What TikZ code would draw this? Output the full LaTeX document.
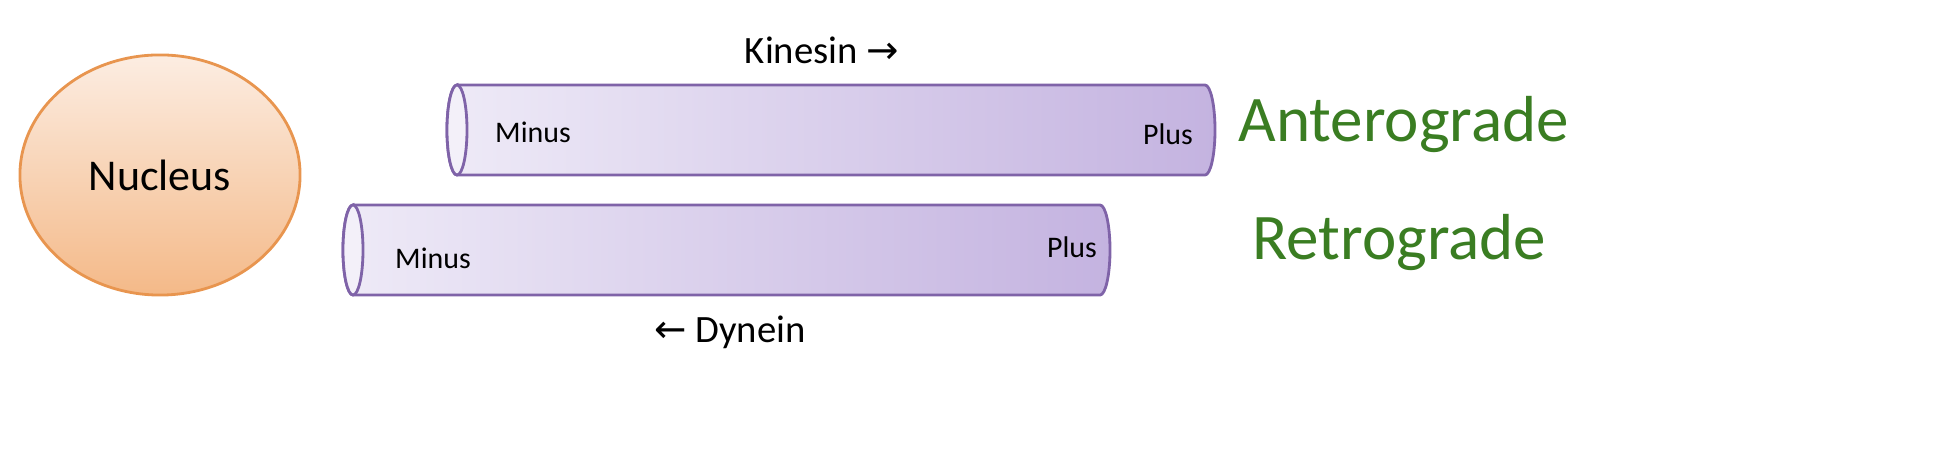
\documentclass[tikz,border=0pt]{standalone}
\usepackage{fontspec}
\setmainfont{Carlito}
\newfontfamily\arrowfont{DejaVu Sans}
\usetikzlibrary{shapes.geometric,positioning}
\definecolor{tubeline}{HTML}{7F63A8}
\definecolor{tubelight}{HTML}{EEEAF7}
\definecolor{tubedark}{HTML}{C4B3E0}
\definecolor{nucline}{HTML}{E8954F}
\definecolor{nuctop}{HTML}{FCEDE2}
\definecolor{nucbot}{HTML}{F4B988}
\definecolor{dirgreen}{HTML}{3A7D22}
\tikzset{
nucleus/.style = {draw=nucline, thick, ellipse, top color=nuctop, bottom color=nucbot, minimum width=2.8cm, minimum height=2.4cm, font=\fontsize{12.5pt}{14pt}\selectfont},
tube/.style = {draw=tubeline, thick, left color=tubelight, right color=tubedark},
tubeend/.style = {draw=tubeline, thick, fill=tubelight!70!white},
endlabel/.style = {font=\fontsize{8.5pt}{10pt}\selectfont},
motor/.style = {font=\fontsize{11pt}{13pt}\selectfont},
direction/.style = {text=dirgreen, anchor=west, font=\fontsize{18.5pt}{22pt}\selectfont}
}
\newcommand{\tube}[3]{% left x, right x, centre y
  \draw [tube] (#1,#3-45) -- (#2-10,#3-45) arc (90:-90:0.1cm and 0.45cm) -- (#1,#3+45) arc (270:90:0.1cm and 0.45cm) -- cycle;
  \draw [tubeend] (#1,#3) ellipse (0.1cm and 0.45cm);
}
\begin{document}
\begin{tikzpicture}[x=0.01cm, y=-0.01cm]
    \node [nucleus] (nucleus) at (160,175) {Nucleus};
    % microtubules
    \tube{457}{1215}{130}
    \tube{353}{1110}{250}
    \node [endlabel] (minus1) at (533,132) {Minus};
    \node [endlabel] (plus1) at (1168,134) {Plus};
    \node [endlabel] (minus2) at (433,258) {Minus};
    \node [endlabel] (plus2) at (1072,247) {Plus};
    \node [motor] (kinesin) at (822,50) {Kinesin {\arrowfont →}};
    \node [motor] (dynein) at (730,332) {{\arrowfont ←} Dynein};
    \node [direction] (antero) at (1226,125) {Anterograde};
    \node [direction] (retro) at (1240,243) {Retrograde};
    \pgfresetboundingbox
    \useasboundingbox (0,0) rectangle (1954,474);
\end{tikzpicture}
\end{document}
